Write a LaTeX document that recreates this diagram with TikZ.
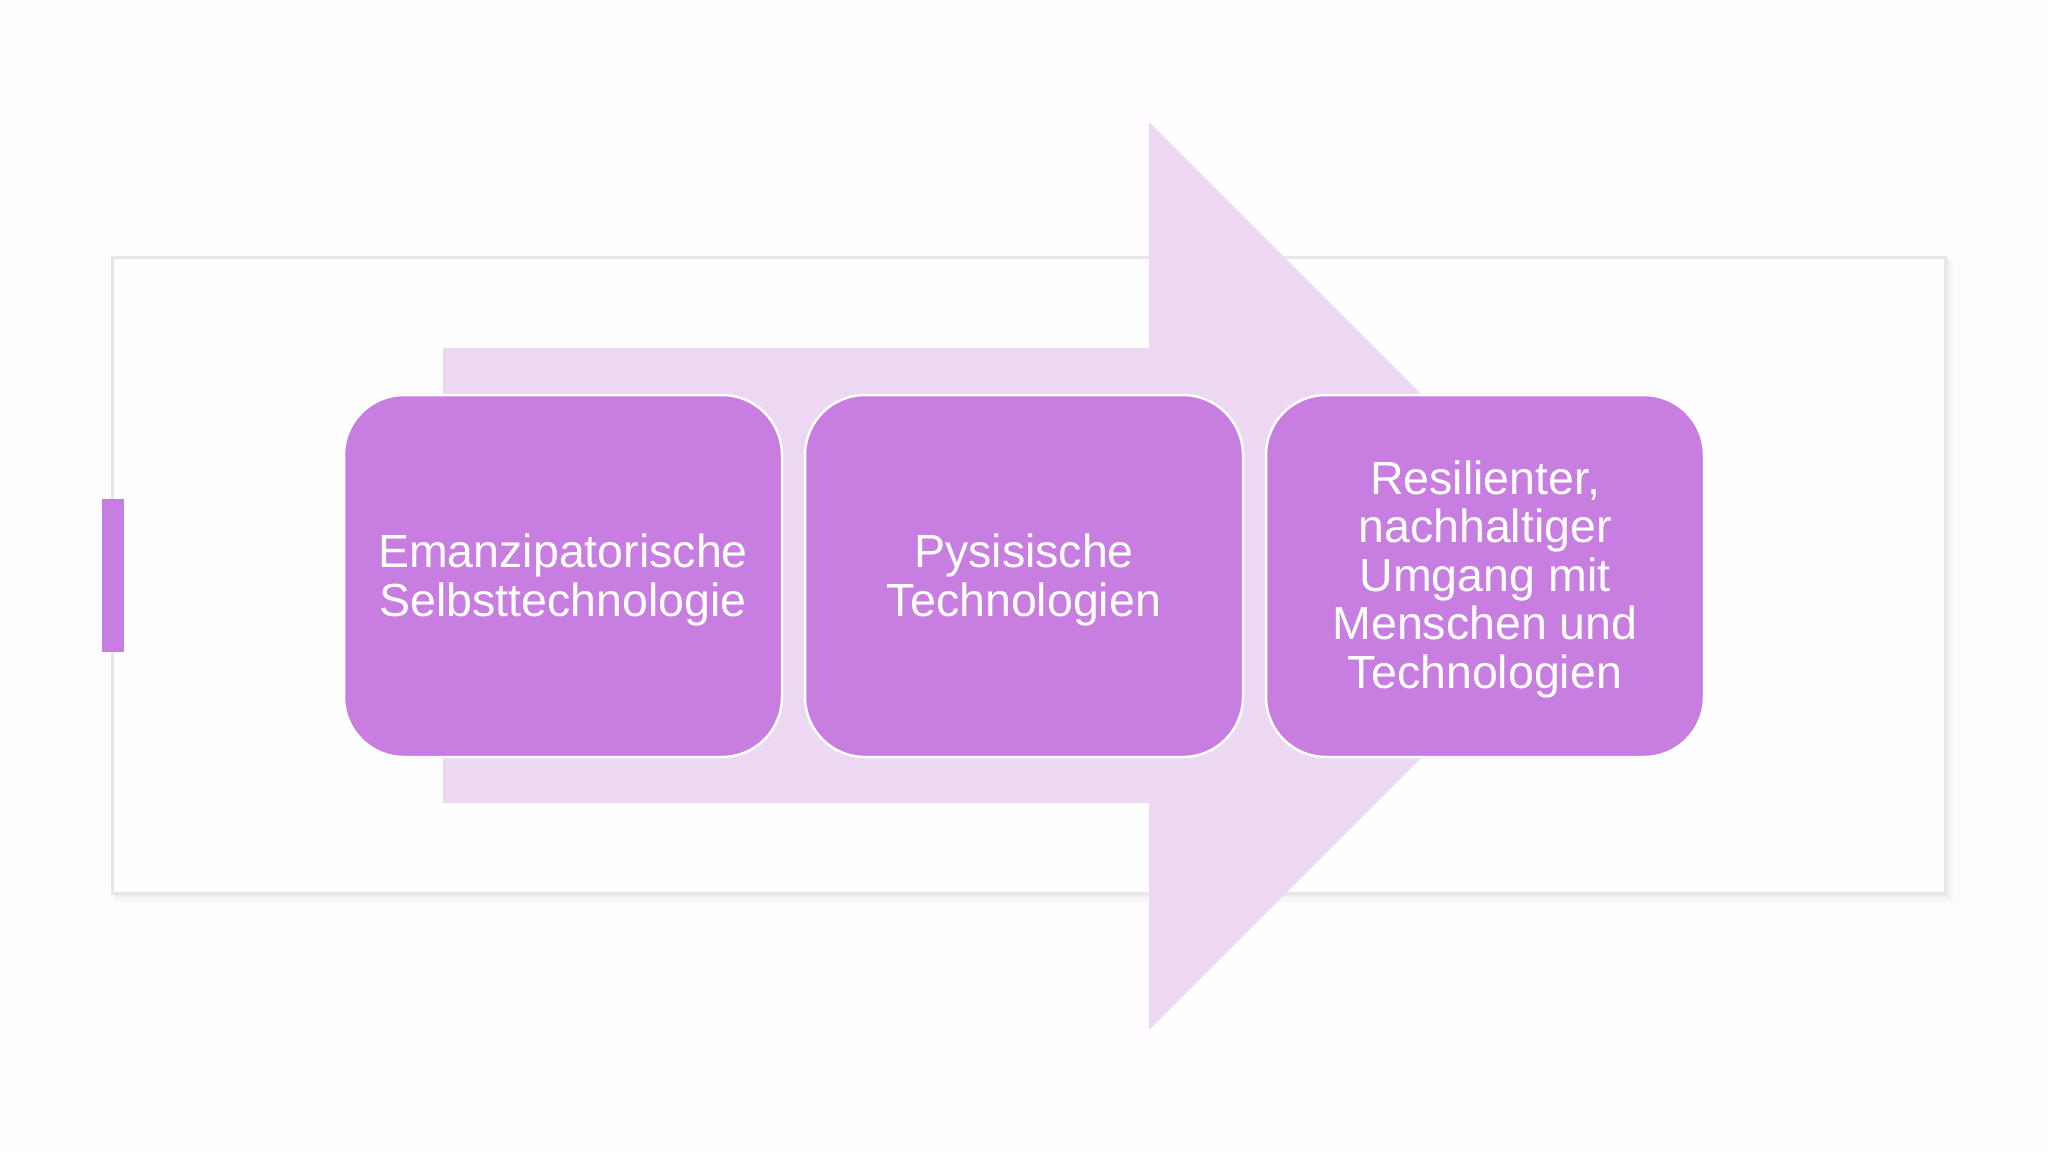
\documentclass[tikz,border=0pt]{standalone}
\usepackage{fontspec}
\setmainfont{Liberation Sans}
\definecolor{bgc}{HTML}{FEFCFE}
\definecolor{framefill}{HTML}{FFFEFF}
\definecolor{frameline}{HTML}{E8E6E8}
\definecolor{arrowc}{HTML}{ECD8F2}
\definecolor{boxc}{HTML}{C87DE0}
\tikzset{
  stepbox/.style={draw=white, line width=2.5pt, fill=boxc, rounded corners=60pt,
    minimum width=438pt, minimum height=362pt, inner sep=0pt},
  steptext/.style={text=white, align=center, inner sep=0pt,
    font=\fontsize{46.5}{48.5}\selectfont},
}
\begin{document}
\begin{tikzpicture}[x=1pt,y=-1pt]
\useasboundingbox (0,0) rectangle (2048,1152);
\fill[bgc] (0,0) rectangle (2048,1152);
% frame shadow
\fill[black, opacity=0.025] (114,259) rectangle (1953,902);
\fill[black, opacity=0.025] (114,259) rectangle (1950,898);
\fill[black, opacity=0.025] (114,259) rectangle (1948,896);
% frame
\draw[frameline, fill=framefill, line width=3pt] (112,257) rectangle (1945,893);
% big arrow
\fill[arrowc] (443,348) -- (1149,348) -- (1149,122) -- (1603,576) -- (1149,1030) -- (1149,803) -- (443,803) -- cycle;
% left accent bar
\fill[boxc] (102,499) rectangle (124,652);
% boxes
\node[stepbox] (b1) at (563,576) {};
\node[stepbox] (b2) at (1024,576) {};
\node[stepbox] (b3) at (1485,576) {};
\node[steptext] (t1) at ([yshift=-4pt]b1.center) {Emanzipatorische\\Selbsttechnologie};
\node[steptext] (t2) at ([yshift=-4pt]b2.center) {Pysisische\\Technologien};
\node[steptext] (t3) at ([yshift=-3pt]b3.center) {Resilienter,\\nachhaltiger\\Umgang mit\\Menschen und\\Technologien};
\end{tikzpicture}
\end{document}
